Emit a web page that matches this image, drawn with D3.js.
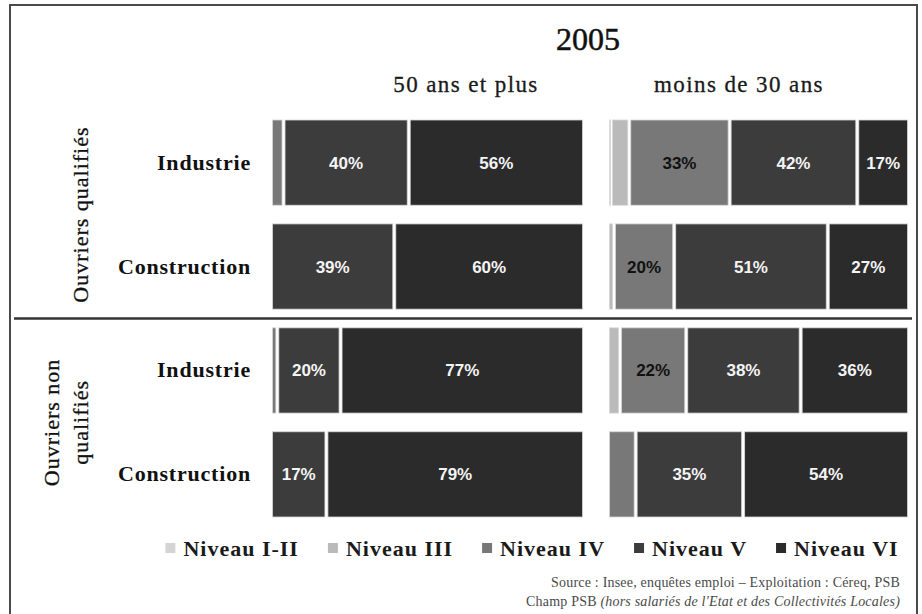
<!DOCTYPE html>
<html>
<head>
<meta charset="utf-8">
<script src="https://cdn.jsdelivr.net/npm/d3@7"></script>
<style>
  body { margin: 0; background: #fff; }
  svg { display: block; }
</style>
</head>
<body>
<script>
// data (parts of each bar, in %)
const levels = ["Niveau I-II", "Niveau III", "Niveau IV", "Niveau V", "Niveau VI"];
const colors = ["#d4d4d4", "#bababa", "#787878", "#3c3c3c", "#2b2b2b"];
const rowIds = ["q-ind", "q-con", "nq-ind", "nq-con"];
const sectors = ["Industrie", "Construction", "Industrie", "Construction"];
const ageGroups = ["50 ans et plus", "moins de 30 ans"];
// one line per row, values for levels I-II ... VI
const over50 = [
    [0, 0, 4, 40, 56],
    [0, 0, 0, 39, 60],
    [0, 0, 2, 20, 77],
    [0, 0, 0, 17, 79]
];
const under30 = [
    [1, 6, 33, 42, 17],
    [0, 2, 20, 51, 27],
    [0, 4, 22, 38, 36],
    [0, 0, 9, 35, 54]
];

const w = 922;
const h = 614;
const serif = "'Liberation Serif', 'Times New Roman', serif";
const sans = "'Liberation Sans', Arial, sans-serif";

const svg = d3.select('body')
    .append('svg')
    .attr('width', w)
    .attr('height', h);

// frame
svg.append('rect')
    .attr('x', 10)
    .attr('y', 5)
    .attr('width', 907)
    .attr('height', 612)
    .attr('fill', 'none')
    .attr('stroke', '#4a4a4a')
    .attr('stroke-width', 2);

// rows
const yScale = d3.scaleBand()
    .domain(rowIds)
    .range([120, 517])
    .paddingInner(0.18);

// separator between the two worker groups
const sepY = (yScale('q-con') + yScale.bandwidth() + yScale('nq-ind')) / 2;
svg.append('line')
    .attr('x1', 14)
    .attr('x2', 912)
    .attr('y1', sepY)
    .attr('y2', sepY)
    .attr('stroke', '#333')
    .attr('stroke-width', 2.5);

// title
svg.append('text')
    .attr('x', 588)
    .attr('y', 50)
    .attr('text-anchor', 'middle')
    .style('font-family', serif)
    .style('font-size', '32px')
    .style('stroke', '#111')
    .style('stroke-width', 0.5)
    .attr('fill', '#111')
    .text('2005');

const panels = [
    { name: ageGroups[0], values: over50, hx: 466, x: d3.scaleLinear().domain([0, 1]).range([271, 584]) },
    { name: ageGroups[1], values: under30, hx: 739, x: d3.scaleLinear().domain([0, 1]).range([608, 909]) }
];

const stack = d3.stack().keys(levels).offset(d3.stackOffsetExpand);

panels.forEach((p) => {
    const rows = p.values.map((vals, i) => {
        const o = { row: rowIds[i] };
        levels.forEach((l, j) => o[l] = vals[j]);
        return o;
    });
    const series = stack(rows);
    const xScale = p.x;

    // column header
    svg.append('text')
        .attr('x', p.hx)
        .attr('y', 92)
        .attr('text-anchor', 'middle')
        .style('font-family', serif)
        .style('font-size', '23px')
        .style('letter-spacing', '1.4px')
        .style('stroke', '#1a1a1a')
        .style('stroke-width', 0.3)
        .attr('fill', '#1a1a1a')
        .text(p.name);

    const g = svg.append('g');
    const layer = g.selectAll('g')
        .data(series)
        .enter()
        .append('g')
        .attr('fill', (d, i) => colors[i]);

    layer.selectAll('rect')
        .data((d) => d.filter((s) => s[1] - s[0] > 0))
        .enter()
        .append('rect')
        .attr('x', (d) => xScale(d[0]) + 1.5)
        .attr('y', (d) => yScale(d.data.row))
        .attr('width', (d) => Math.max(1, xScale(d[1]) - xScale(d[0]) - 3))
        .attr('height', yScale.bandwidth())
        .attr('stroke', '#d6d6d6')
        .attr('stroke-width', 0.8);

    // percentage labels
    series.forEach((s, i) => {
        g.selectAll(null)
            .data(s.filter((d) => d.data[s.key] >= 15))
            .enter()
            .append('text')
            .attr('x', (d) => (xScale(d[0]) + xScale(d[1])) / 2)
            .attr('y', (d) => yScale(d.data.row) + yScale.bandwidth() / 2 + 6)
            .attr('text-anchor', 'middle')
            .style('font-family', sans)
            .style('font-weight', 'bold')
            .style('font-size', '17px')
            .attr('fill', i == 2 ? '#111' : '#f4f4f4')
            .text((d) => d.data[s.key] + '%');
    });
});

// sector labels
svg.selectAll('.sector')
    .data(rowIds)
    .enter()
    .append('text')
    .attr('class', 'sector')
    .attr('x', 251)
    .attr('y', (d) => yScale(d) + yScale.bandwidth() / 2 + 7)
    .attr('text-anchor', 'end')
    .style('font-family', serif)
    .style('font-weight', 'bold')
    .style('font-size', '22px')
    .style('letter-spacing', '0.8px')
    .attr('fill', '#111')
    .text((d, i) => sectors[i]);

// group labels (rotated)
const qCenter = (yScale('q-ind') + yScale('q-con') + yScale.bandwidth()) / 2;
const nqCenter = (yScale('nq-ind') + yScale('nq-con') + yScale.bandwidth()) / 2;

svg.append('text')
    .attr('transform', `translate(88, ${qCenter}) rotate(-90)`)
    .attr('text-anchor', 'middle')
    .style('font-family', serif)
    .style('font-size', '22px')
    .style('letter-spacing', '1px')
    .style('stroke', '#111')
    .style('stroke-width', 0.3)
    .attr('fill', '#111')
    .text('Ouvriers qualifiés');

const nq = svg.append('text')
    .attr('transform', `translate(59, ${nqCenter}) rotate(-90)`)
    .attr('text-anchor', 'middle')
    .style('font-family', serif)
    .style('font-size', '22px')
    .style('letter-spacing', '1px')
    .style('stroke', '#111')
    .style('stroke-width', 0.3)
    .attr('fill', '#111');
nq.append('tspan').attr('x', 0).attr('dy', 0).text('Ouvriers non');
nq.append('tspan').attr('x', 0).attr('dy', 29).text('qualifiés');

// legend
const legend = svg.append('g').attr('id', 'legend');
const items = legend.selectAll('g')
    .data(levels)
    .enter()
    .append('g');
items.append('rect')
    .attr('x', 0)
    .attr('y', -13)
    .attr('width', 10)
    .attr('height', 10)
    .attr('fill', (d, i) => colors[i]);
items.append('text')
    .attr('x', 18)
    .attr('y', 0)
    .style('font-family', serif)
    .style('font-weight', 'bold')
    .style('font-size', '22px')
    .style('letter-spacing', '1px')
    .attr('fill', '#1a1a1a')
    .text((d) => d);

const legendGap = 29;
let lx = 0;
const offsets = [];
items.each(function () {
    const tw = d3.select(this).select('text').node().getComputedTextLength();
    offsets.push(lx);
    lx += 18 + tw + legendGap;
});
const legendW = lx - legendGap;
const legendStart = 532 - legendW / 2;
items.attr('transform', (d, i) => `translate(${legendStart + offsets[i]}, 556)`);

// source
svg.append('text')
    .attr('x', 900)
    .attr('y', 587)
    .attr('text-anchor', 'end')
    .style('font-family', serif)
    .style('font-size', '14px')
    .style('letter-spacing', '0.2px')
    .attr('fill', '#4a4a4a')
    .text('Source : Insee, enquêtes emploi – Exploitation : Céreq, PSB');

const src2 = svg.append('text')
    .attr('x', 900)
    .attr('y', 606)
    .attr('text-anchor', 'end')
    .style('font-family', serif)
    .style('font-size', '14px')
    .style('letter-spacing', '0.2px')
    .attr('fill', '#4a4a4a');
src2.append('tspan').text('Champ PSB ');
src2.append('tspan')
    .style('font-style', 'italic')
    .text("(hors salariés de l'Etat et des Collectivités Locales)");
</script>
</body>
</html>
